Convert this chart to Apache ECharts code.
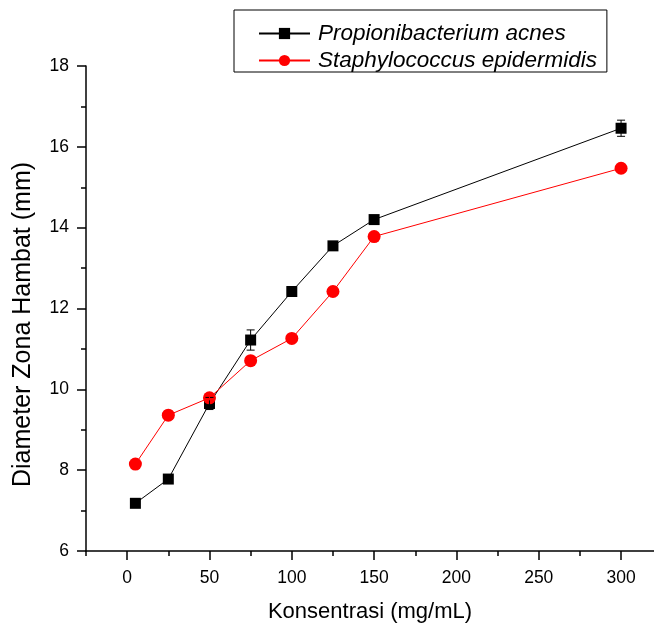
<!DOCTYPE html>
<html>
<head>
<meta charset="utf-8">
<script src="https://cdn.jsdelivr.net/npm/echarts@6/dist/echarts.min.js"></script>
<style>
  html, body { margin: 0; padding: 0; background: #fff; }
  #chart { width: 654px; height: 625px; }
</style>
</head>
<body>
<div id="chart"></div>
<script>
const konsentrasi = [5, 25, 50, 75, 100, 125, 150, 300];
const acnesMean = [7.18, 7.78, 9.65, 11.22, 12.42, 13.55, 14.2, 16.46];
const acnesErr = [0.06, 0.06, 0.15, 0.25, 0.06, 0.06, 0.06, 0.2];
const epiMean = [8.15, 9.36, 9.79, 10.71, 11.26, 12.42, 13.78, 15.47];
const epiErr = [0.05, 0.1, 0.05, 0.1, 0.05, 0.05, 0.05, 0.05];
const xMajorTicks = [0, 50, 100, 150, 200, 250, 300];
const xMinorTicks = [-25, 25, 75, 125, 175, 225, 275];

const font = "'Liberation Sans', Arial, sans-serif";

const pairs = (ys) => konsentrasi.map((x, i) => [x, ys[i]]);
const errRows = (ys, es) => konsentrasi.map((x, i) => [x, ys[i] - es[i], ys[i] + es[i]]);

const errorBar = (color) => function (params, api) {
    let lo = api.coord([api.value(0), api.value(1)]);
    let hi = api.coord([api.value(0), api.value(2)]);
    let half = 4;
    let style = { stroke: color, lineWidth: 1 };
    return {
        type: 'group',
        children: [
            { type: 'line', shape: { x1: lo[0], y1: lo[1], x2: hi[0], y2: hi[1] }, style: style },
            { type: 'line', shape: { x1: lo[0] - half, y1: lo[1], x2: lo[0] + half, y2: lo[1] }, style: style },
            { type: 'line', shape: { x1: hi[0] - half, y1: hi[1], x2: hi[0] + half, y2: hi[1] }, style: style }
        ]
    };
};

const axisColor = { color: '#000', width: 1.5 };

let myChart = echarts.init(document.getElementById('chart'));
let option = {
    animation: false,
    backgroundColor: '#fff',
    textStyle: { fontFamily: font },
    grid: { left: 86, right: 0, top: 66, bottom: 74, outerBoundsMode: 'none', containLabel: false },
    legend: {
        orient: 'vertical',
        left: 234,
        top: 10,
        padding: [12, 10, 0, 24],
        itemGap: 4,
        itemWidth: 51,
        itemHeight: 14,
        borderColor: '#000',
        borderWidth: 1,
        textStyle: { fontFamily: font, fontSize: 22.5, fontStyle: 'italic', color: '#000', padding: [0, 0, 0, 3] },
        data: ['Propionibacterium acnes', 'Staphylococcus epidermidis']
    },
    xAxis: [
        {
            type: 'value',
            position: 'bottom',
            min: -25,
            max: 320,
            interval: 25,
            splitLine: { show: false },
            axisLine: { onZero: false, lineStyle: axisColor },
            axisTick: { show: true, length: 9, customValues: xMajorTicks, lineStyle: axisColor },
            axisLabel: { fontSize: 17.5, color: '#000', margin: 18, customValues: xMajorTicks },
            name: 'Konsentrasi (mg/mL)',
            nameLocation: 'middle',
            nameGap: 50,
            nameTextStyle: { fontSize: 22, color: '#000', fontFamily: font }
        },
        {
            // minor ticks only
            type: 'value',
            position: 'bottom',
            min: -25,
            max: 320,
            interval: 25,
            splitLine: { show: false },
            axisLine: { show: false },
            axisTick: { show: true, length: 5, customValues: xMinorTicks, lineStyle: axisColor },
            axisLabel: { show: false }
        }
    ],
    yAxis: {
        type: 'value',
        min: 6,
        max: 18,
        interval: 2,
        splitLine: { show: false },
        axisLine: { onZero: false, lineStyle: axisColor },
        axisTick: { show: true, length: 9, lineStyle: axisColor },
        minorTick: { show: true, splitNumber: 2, length: 5, lineStyle: axisColor },
        axisLabel: { fontSize: 17.5, color: '#000', margin: 17 },
        name: 'Diameter Zona Hambat (mm)',
        nameLocation: 'middle',
        nameGap: 50,
        nameTextStyle: { fontSize: 25, color: '#000', fontFamily: font, padding: [0, 32, 0, 0] }
    },
    series: [
        {
            name: 'Propionibacterium acnes',
            type: 'line',
            data: pairs(acnesMean),
            symbol: 'rect',
            symbolSize: 11,
            itemStyle: { color: '#000' },
            lineStyle: { color: '#000', width: 1 },
            z: 3
        },
        {
            name: 'Staphylococcus epidermidis',
            type: 'line',
            data: pairs(epiMean),
            symbol: 'circle',
            symbolSize: 13,
            itemStyle: { color: '#ff0000' },
            lineStyle: { color: '#ff0000', width: 1 },
            z: 4
        },
        {
            type: 'custom',
            renderItem: errorBar('#000'),
            data: errRows(acnesMean, acnesErr),
            encode: { x: 0, y: [1, 2] },
            z: 5,
            silent: true
        },
        {
            type: 'custom',
            renderItem: errorBar('#ff0000'),
            data: errRows(epiMean, epiErr),
            encode: { x: 0, y: [1, 2] },
            z: 5,
            silent: true
        }
    ]
};
option && myChart.setOption(option);
</script>
</body>
</html>
